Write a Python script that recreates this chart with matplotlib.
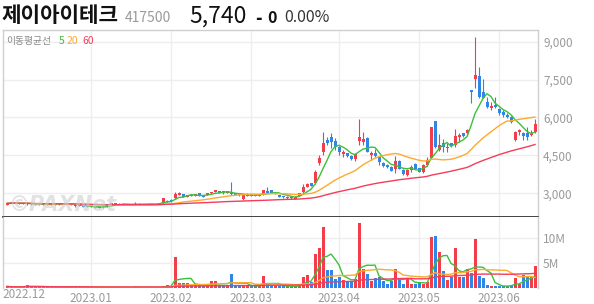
import numpy as np
import pandas as pd
import matplotlib
matplotlib.use('Agg')
import matplotlib.pyplot as plt
from matplotlib.ticker import FixedLocator

plt.rcParams['font.family'] = ['Noto Sans CJK KR', 'DejaVu Sans']

# daily OHLC (trading days 2022.12 ~ 2023.06)
opens = [2540, 2660, 2650, 2580, 2620, 2560, 2600, 2580, 2540, 2580,
         2550, 2590, 2580, 2560, 2610, 2570, 2600, 2480, 2530, 2500,
         2490, 2480, 2430, 2410, 2470, 2460, 2550, 2600, 2560, 2590,
         2580, 2570, 2550, 2590, 2570, 2580, 2560, 2580, 2570, 2600,
         2650, 2750, 2800, 2930, 2975, 2870, 2950, 2900, 3000, 2930,
         2930, 3000, 3060, 3090, 3090, 3025, 3070, 3000, 2975, 2790,
         2900, 2935, 2935, 2900, 2960, 3100, 3130, 2975, 2934, 2900,
         2800, 2868, 2790, 2910, 3060, 3264, 3400, 3400, 4210, 4650,
         5110, 5240, 5070, 4850, 4560, 4580, 4480, 4345, 5085, 5045,
         5180, 4520, 4580, 4425, 4190, 4135, 4055, 3950, 4280, 3920,
         3725, 3920, 4160, 3990, 3855, 4120, 4385, 5860, 4715, 4980,
         4780, 4980, 4900, 5215, 5370, 5370, 7090, 7510, 7640, 7020,
         6630, 6360, 6500, 6340, 6230, 6100, 6030, 5100, 5440, 5370,
         5400, 5310, 5440]
closes = [2600, 2620, 2610, 2620, 2580, 2600, 2560, 2540, 2580, 2550,
          2590, 2560, 2550, 2610, 2570, 2600, 2560, 2530, 2500, 2470,
          2460, 2450, 2470, 2460, 2440, 2540, 2600, 2560, 2590, 2560,
          2550, 2550, 2590, 2570, 2580, 2560, 2580, 2570, 2620, 2800,
          2700, 2680, 2975, 3030, 2870, 2930, 2900, 2960, 2910, 2870,
          3000, 3060, 3130, 3020, 3000, 3090, 2975, 2935, 2920, 2935,
          2970, 2910, 2900, 2935, 3130, 3020, 3025, 3030, 2868, 2840,
          2870, 2800, 2868, 3000, 3260, 3370, 3300, 3860, 4385, 4980,
          4980, 5045, 4850, 4650, 4620, 4480, 4345, 4560, 5220, 5140,
          4650, 4580, 4480, 4250, 4080, 4030, 3900, 4290, 3975, 3765,
          3920, 4055, 3975, 3855, 4120, 4320, 5640, 4850, 4910, 4820,
          4850, 4870, 5270, 5300, 5270, 5500, 7020, 7680, 6820, 6760,
          6430, 6455, 6400, 6190, 6100, 6010, 5840, 5440, 5500, 5270,
          5215, 5400, 5740]
highs = [2610, 2670, 2660, 2630, 2630, 2610, 2610, 2590, 2590, 2590,
         2600, 2600, 2590, 2620, 2620, 2610, 2610, 2540, 2540, 2510,
         2500, 2490, 2480, 2470, 2480, 2550, 2610, 2610, 2600, 2600,
         2590, 2580, 2640, 2600, 2590, 2590, 2590, 2590, 2630, 2830,
         2720, 2760, 3065, 3050, 2990, 2940, 2960, 2980, 3010, 2940,
         3010, 3070, 3150, 3100, 3100, 3100, 3460, 3010, 2990, 2940,
         3000, 2950, 2940, 2940, 3150, 3260, 3140, 3040, 2940, 2910,
         2880, 2880, 2880, 3010, 3370, 3400, 3410, 3925, 4515, 5440,
         5240, 5370, 5170, 4880, 4710, 4610, 4500, 4590, 5930, 5440,
         5220, 4690, 4740, 4450, 4220, 4160, 4080, 4480, 4300, 3950,
         3950, 4120, 4180, 4010, 4160, 4450, 5640, 5880, 5350, 5140,
         4980, 5010, 5540, 5370, 5400, 5550, 7100, 9170, 7990, 7510,
         6830, 6630, 6830, 6360, 6300, 6170, 6050, 5480, 5530, 5440,
         5640, 5500, 5930]
lows = [2530, 2610, 2600, 2570, 2570, 2550, 2550, 2530, 2530, 2540,
        2540, 2550, 2540, 2550, 2560, 2560, 2550, 2470, 2490, 2460,
        2450, 2440, 2420, 2400, 2430, 2450, 2540, 2550, 2550, 2550,
        2540, 2540, 2540, 2560, 2560, 2550, 2550, 2560, 2560, 2570,
        2640, 2670, 2760, 2920, 2860, 2860, 2890, 2890, 2900, 2860,
        2920, 2990, 3050, 3010, 2990, 3010, 2930, 2920, 2900, 2735,
        2890, 2900, 2890, 2890, 2950, 3000, 3010, 2960, 2850, 2830,
        2790, 2790, 2763, 2900, 3030, 3250, 3290, 3370, 4120, 4520,
        4910, 4780, 4720, 4520, 4450, 4450, 4320, 4290, 4900, 4910,
        4620, 4310, 4450, 4120, 4050, 4000, 3880, 3820, 3950, 3740,
        3700, 3830, 3950, 3830, 3820, 4080, 4385, 4800, 4690, 4650,
        4650, 4850, 4850, 5045, 5240, 5310, 6560, 7150, 6760, 6760,
        6360, 6300, 6360, 6100, 6000, 5970, 5800, 5080, 5310, 5110,
        5110, 5270, 5400]
# volume, millions of shares
volumes = [0.3, 0.2, 0.2, 0.2, 0.3, 0.6, 0.2, 0.2, 0.3, 0.2,
           0.2, 0.2, 0.1, 0.2, 0.2, 0.2, 0.4, 0.2, 0.1, 0.1,
           0.2, 0.1, 0.1, 0.2, 0.1, 0.2, 0.2, 0.1, 0.1, 0.1,
           0.1, 0.1, 0.4, 0.1, 0.1, 0.1, 0.1, 0.2, 0.2, 0.4,
           0.5, 0.4, 6.2, 1.0, 1.0, 0.9, 0.5, 0.6, 0.5, 0.4,
           0.6, 1.3, 1.3, 0.6, 0.5, 0.6, 2.7, 0.6, 0.5, 0.4,
           0.5, 0.4, 0.4, 0.4, 2.3, 0.9, 0.5, 0.4, 0.4, 0.3,
           0.4, 0.3, 0.4, 0.5, 2.2, 2.5, 1.2, 6.7, 8.0, 12.1,
           3.5, 3.5, 1.7, 2.2, 1.5, 1.4, 1.4, 1.7, 13.0, 3.8,
           2.8, 1.3, 1.9, 2.2, 1.3, 0.8, 1.4, 3.7, 1.7, 0.8,
           1.8, 0.8, 0.7, 1.2, 0.8, 1.2, 10.1, 10.3, 7.2, 3.3,
           1.5, 2.2, 7.9, 2.2, 2.2, 3.7, 3.0, 9.7, 2.3, 1.9,
           0.5, 0.4, 0.4, 0.3, 0.4, 0.4, 0.6, 2.0, 0.7, 2.5,
           2.2, 2.2, 4.3]
month_idx = [0, 21, 41, 61, 83, 103, 123]
month_labels = ['2022.12', '2023.01', '2023.02', '2023.03', '2023.04', '2023.05', '2023.06']
ma_windows = [5, 20, 60]

RED = '#f23e4a'
BLUE = '#2f86e6'
MA_COLORS = ['#3cc03c', '#fdaa2e', '#f43c5c']
GRID = '#eeeeee'

W, H = 594, 304
o = np.array(opens, float)
c = np.array(closes, float)
hi = np.array(highs, float)
lo = np.array(lows, float)
vol = np.array(volumes) * 1e6
x = np.arange(len(c))
up = c >= o
colors = np.where(up, RED, BLUE)

fig = plt.figure(figsize=(W / 100, H / 100), dpi=100)


def fx(px):
    return px / W


def fy(py):
    return 1 - py / H


ax = fig.add_axes([fx(2.5), fy(217), fx(535), (217 - 30) / H])
axv = fig.add_axes([fx(2.5), fy(288), fx(535), (288 - 217) / H])

for a in (ax, axv):
    a.set_xlim(-1.125, 132.625)
    a.set_xticks(month_idx[1:])
    a.grid(True, color=GRID, linewidth=1)
    a.set_axisbelow(True)
    a.yaxis.tick_right()
    a.tick_params(length=0, labelsize=8.5, labelcolor='#9a9a9a', pad=4)
    for s in a.spines.values():
        s.set_color('#cfcfcf')
        s.set_linewidth(1)

# price panel
ax.set_ylim(2062, 9463)
ax.set_yticks([3000, 4500, 6000, 7500, 9000])
ax.set_yticklabels(['{:,}'.format(v) for v in [3000, 4500, 6000, 7500, 9000]])
ax.tick_params(axis='x', labelbottom=False)
ax.spines['bottom'].set_color('#333333')
ax.spines['bottom'].set_linewidth(1.3)

ax.vlines(x, lo, hi, colors=colors, linewidth=0.8, zorder=3)
body = np.maximum(np.abs(c - o), 25)
ax.bar(x, body, bottom=np.minimum(o, c), width=0.75, color=colors, zorder=3)

cs = pd.Series(c)
for w, col in zip(ma_windows, MA_COLORS):
    ax.plot(x, cs.rolling(w, min_periods=1).mean(), color=col, linewidth=1.0, zorder=4)

# volume panel
axv.set_ylim(0, 14.14e6)
axv.set_yticks([5e6, 10e6])
axv.set_yticklabels(['5M', '10M'])
axv.spines['top'].set_visible(False)
axv.spines['bottom'].set_visible(False)
axv.bar(x, vol, width=0.75, color=colors, zorder=3)
vs = pd.Series(vol)
for w, col in zip(ma_windows, MA_COLORS):
    axv.plot(x, vs.rolling(w, min_periods=1).mean(), color=col, linewidth=1.0, zorder=4)

axv.xaxis.set_major_locator(FixedLocator(month_idx[1:]))
axv.set_xticklabels(month_labels[1:])
axv.tick_params(axis='x', pad=3, labelsize=8.5)
axv.text(fx(2), fy(295), month_labels[0], transform=fig.transFigure, ha='left', va='center',
         fontsize=8.5, color='#9a9a9a')

# watermark
fig.text(fx(8), fy(205), '©PAXNet', fontsize=15, fontweight='bold', style='italic',
         color='#d0d0d0', alpha=0.6, ha='left', va='center', family='DejaVu Sans', zorder=0)

# header
fig.text(fx(1), fy(16), '제이아이테크', fontsize=15.3, fontweight='bold', color='#111111',
         ha='left', va='center')
fig.text(fx(125), fy(18), '417500', fontsize=10, color='#9a9a9a', ha='left', va='center')
fig.text(fx(189), fy(16), '5,740', fontsize=16.5, fontweight='medium', color='#111111',
         ha='left', va='center')
fig.text(fx(255), fy(18), '-', fontsize=13, fontweight='bold', color='#111111', ha='left', va='center')
fig.text(fx(267), fy(18), '0', fontsize=11.5, fontweight='bold', color='#111111', ha='left', va='center')
fig.text(fx(284), fy(18), '0.00%', fontsize=11.5, color='#333333', ha='left', va='center')

# MA legend
fig.text(fx(6), fy(41), '이동평균선', fontsize=7, color='#888888', ha='left', va='center')
fig.text(fx(59), fy(41), '5', fontsize=7.5, color=MA_COLORS[0], ha='left', va='center')
fig.text(fx(67), fy(41), '20', fontsize=7.5, color=MA_COLORS[1], ha='left', va='center')
fig.text(fx(82), fy(41), '60', fontsize=7.5, color=MA_COLORS[2], ha='left', va='center')

fig.savefig('out.png', dpi=100)
